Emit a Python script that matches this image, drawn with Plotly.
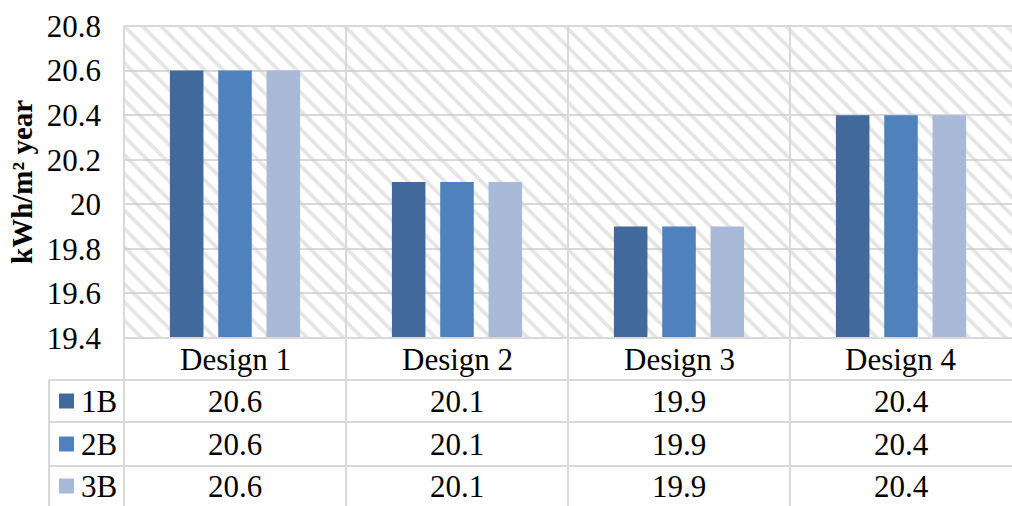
import plotly.graph_objects as go

categories = ["Design 1", "Design 2", "Design 3", "Design 4"]
series_names = ["1B", "2B", "3B"]
values_1B = [20.6, 20.1, 19.9, 20.4]
values_2B = [20.6, 20.1, 19.9, 20.4]
values_3B = [20.6, 20.1, 19.9, 20.4]
series_values = [values_1B, values_2B, values_3B]
colors = ["#41699B", "#4F81BD", "#A9B9D8"]
y_min, y_max, y_step = 19.4, 20.8, 0.2
y_title = "kWh/m² year"

FONT = "Liberation Serif, Times New Roman, serif"
FS = 31
W, H = 1012, 506
ML, MR, MT, MB = 124, 0, 26, 168
PW, PH = W - ML - MR, H - MT - MB
GRID = "#D9D9D9"


def px_x(px):
    return (px - ML) / PW


def px_y(py):
    return (H - MB - py) / PH


fig = go.Figure()

# hatched plot-area background (base axis)
fig.add_trace(go.Bar(
    x=[0.5], y=[y_max - y_min], base=[y_min], width=[1],
    xaxis="x", yaxis="y",
    marker=dict(color="rgba(0,0,0,0)", line=dict(width=0),
                pattern=dict(shape="\\", fgcolor="#CBCBCB", size=13, solidity=0.3)),
    hoverinfo="skip", showlegend=False,
))

for name, vals, col in zip(series_names, series_values, colors):
    fig.add_trace(go.Bar(
        x=categories, y=vals, name=name, xaxis="x2", yaxis="y",
        marker=dict(color=col, line=dict(width=0)), showlegend=False,
    ))

fig.update_layout(
    width=W, height=H,
    margin=dict(l=ML, r=MR, t=MT, b=MB, pad=0),
    paper_bgcolor="white", plot_bgcolor="white",
    barmode="group", bargap=0.347, bargroupgap=0.306,
    font=dict(family=FONT, size=FS, color="black"),
    xaxis=dict(range=[0, 1], visible=False, fixedrange=True),
    xaxis2=dict(overlaying="x", type="category", showticklabels=False,
                showgrid=False, zeroline=False, showline=False, ticks=""),
    yaxis=dict(range=[y_min, y_max], dtick=y_step, tick0=y_min,
               showgrid=True, gridcolor=GRID, gridwidth=2, zeroline=False,
               ticks="", ticklabelstandoff=22,
               tickfont=dict(family=FONT, size=FS, color="black")),
)

shapes = []


def hline(py, x0px, x1px):
    shapes.append(dict(type="line", xref="paper", yref="paper",
                       x0=px_x(x0px), x1=px_x(x1px), y0=px_y(py), y1=px_y(py),
                       line=dict(color=GRID, width=2), layer="above"))


def vline(px, y0px, y1px):
    shapes.append(dict(type="line", xref="paper", yref="paper",
                       x0=px_x(px), x1=px_x(px), y0=px_y(y0px), y1=px_y(y1px),
                       line=dict(color=GRID, width=2), layer="above"))


# plot frame top / bottom
hline(MT, ML, W)
hline(H - MB, ML, W)
# table rows
row_h = [42, 42, 44, 40]
row_edges = [H - MB]
for h in row_h:
    row_edges.append(row_edges[-1] + h)
for py in row_edges[1:-1]:
    hline(py, 49, W)
# verticals
vline(49, row_edges[1], H)
n = len(categories)
for i in range(n):
    vline(ML + PW * i / n, MT, H)

annotations = []
# category labels row
for i, c in enumerate(categories):
    annotations.append(dict(xref="paper", yref="paper", x=(i + 0.5) / n,
                            y=px_y((row_edges[0] + row_edges[1]) / 2), text=c,
                            showarrow=False, xanchor="center", yanchor="middle",
                            font=dict(family=FONT, size=FS, color="black")))
# data rows
for r, (name, vals, col) in enumerate(zip(series_names, series_values, colors)):
    cy = (row_edges[r + 1] + row_edges[r + 2]) / 2
    shapes.append(dict(type="rect", xref="paper", yref="paper",
                       x0=px_x(59), x1=px_x(74), y0=px_y(cy - 7.5), y1=px_y(cy + 7.5),
                       fillcolor=col, line=dict(width=0), layer="above"))
    annotations.append(dict(xref="paper", yref="paper", x=px_x(79), y=px_y(cy),
                            text=name, showarrow=False, xanchor="left", yanchor="middle",
                            font=dict(family=FONT, size=FS, color="black")))
    for i, v in enumerate(vals):
        annotations.append(dict(xref="paper", yref="paper", x=(i + 0.5) / n,
                                y=px_y(cy), text=f"{v:g}", showarrow=False,
                                xanchor="center", yanchor="middle",
                                font=dict(family=FONT, size=FS, color="black")))
# y-axis title
annotations.append(dict(xref="paper", yref="paper", x=px_x(22), y=0.5,
                        text="<b>" + y_title + "</b>", textangle=-90, showarrow=False,
                        xanchor="center", yanchor="middle",
                        font=dict(family=FONT, size=29, color="black")))

fig.update_layout(shapes=shapes, annotations=annotations)

fig.write_html("out.html")
